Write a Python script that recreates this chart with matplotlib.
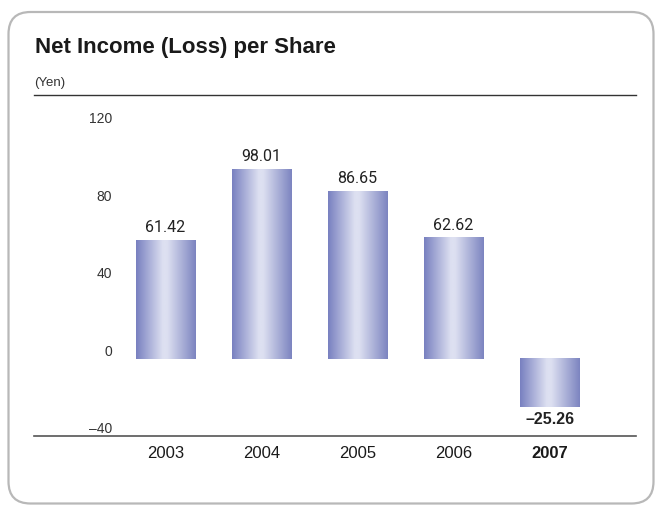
import matplotlib
matplotlib.use("Agg")
import matplotlib.pyplot as plt
import numpy as np
from matplotlib.colors import LinearSegmentedColormap
from matplotlib.patches import FancyBboxPatch

years = ["2003", "2004", "2005", "2006", "2007"]
eps = [61.42, 98.01, 86.65, 62.62, -25.26]
yticks = [-40, 0, 40, 80, 120]
ytick_labels = ["\u201340", "0", "40", "80", "120"]

W, H = 656, 505
fig = plt.figure(figsize=(W / 100, H / 100), dpi=100)
narrow = ["Liberation Sans Narrow", "Liberation Sans", "DejaVu Sans"]

# background layer in pixel units (y down) for the frame, title and rule
bg = fig.add_axes([0, 0, 1, 1], zorder=-1)
bg.set_xlim(0, W)
bg.set_ylim(H, 0)
bg.axis("off")
bg.add_patch(FancyBboxPatch((8.5, 12), 645, 491.5,
                            boxstyle="round,pad=0,rounding_size=22",
                            facecolor="none", edgecolor="#b8b8b8",
                            linewidth=1.6))
bg.text(35, 47, "Net Income (Loss) per Share", fontsize=16,
        fontweight="bold", family=narrow, color="#1a1a1a", va="center")
bg.text(34, 83, "(Yen)", fontsize=9.5, family=narrow,
        color="#333333", va="center")
bg.plot([34, 636], [95, 95], color="#333333", lw=1.0)

# chart area: x 34..636 px, y from 107 (top) to 436 (bottom) px
ax = fig.add_axes([34 / W, 1 - 436 / H, 602 / W, 329 / H])
for s in ["top", "right", "left"]:
    ax.spines[s].set_visible(False)
ax.spines["bottom"].set_color("#555555")
ax.spines["bottom"].set_linewidth(1.2)
ax.set_facecolor("none")

cmap = LinearSegmentedColormap.from_list(
    "barshade", [(0.0, "#7880c0"), (0.45, "#dde0f1"), (0.52, "#dde0f1"),
                 (1.0, "#7c84c0")])
grad = np.linspace(0, 1, 256).reshape(1, -1)
width = 0.615
for i, v in enumerate(eps):
    lo, hi = min(0, v), max(0, v)
    ax.imshow(grad, cmap=cmap, aspect="auto", interpolation="bilinear",
              extent=[i - width / 2, i + width / 2, lo, hi], zorder=2)
    if v >= 0:
        ax.text(i, v + 2.5, f"{v:.2f}", ha="center", va="bottom",
                fontsize=11.5, color="#222222", family="Roboto")
    else:
        ax.text(i, v - 2.5, f"\u2013{abs(v):.2f}", ha="center", va="top",
                fontsize=11.5, color="#222222", fontweight="bold",
                family=narrow)
ax.set_xlim(-1.37, 4.9)
ax.set_ylim(-40, 130)

ax.set_yticks(yticks)
ax.set_yticklabels(ytick_labels, family=narrow, fontsize=10, color="#333333")
ax.tick_params(axis="y", length=0, pad=-56)
for lbl in ax.get_yticklabels():
    lbl.set_va("bottom")
    lbl.set_ha("right")

ax.set_xticks(range(len(years)))
ax.set_xticklabels(years, family=narrow, fontsize=12, color="#1a1a1a")
ax.tick_params(axis="x", length=0, pad=7)
ax.get_xticklabels()[-1].set_fontweight("bold")

fig.savefig("out.png", dpi=100)
